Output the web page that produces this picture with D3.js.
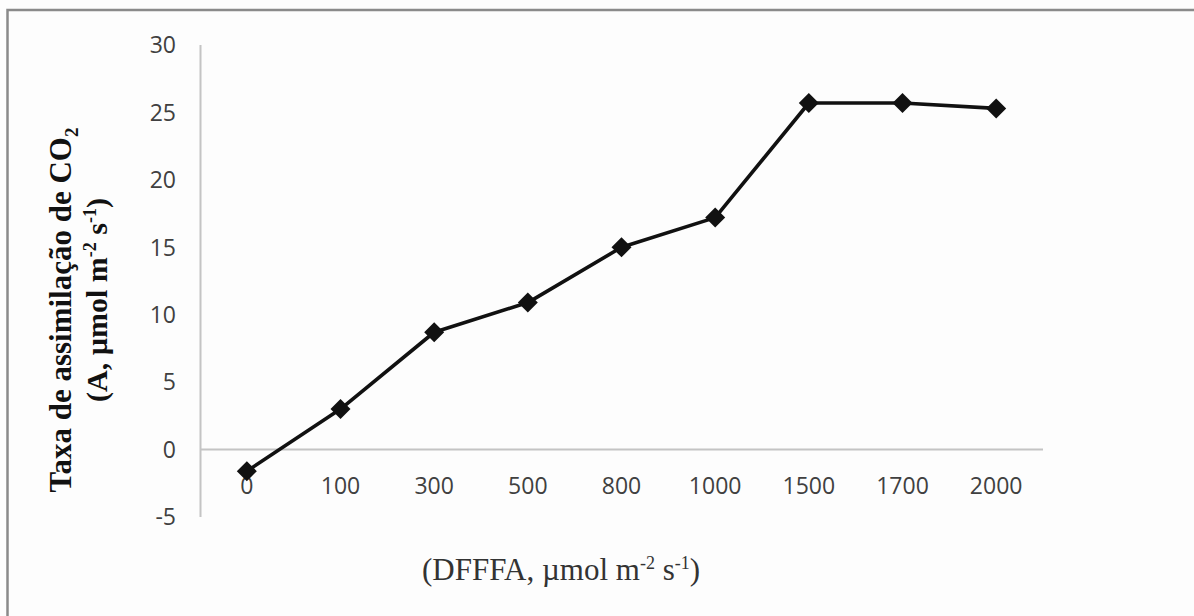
<!DOCTYPE html>
<html>
<head>
<meta charset="utf-8">
<script src="https://cdn.jsdelivr.net/npm/d3@7"></script>
<style>
  html, body { margin: 0; padding: 0; background: #fff; }
  svg { display: block; }
</style>
</head>
<body>
<script>
const categories = ["0", "100", "300", "500", "800", "1000", "1500", "1700", "2000"];
const values = [-1.6, 3.0, 8.7, 10.9, 15.0, 17.2, 25.7, 25.7, 25.3];
const yTicks = [-5, 0, 5, 10, 15, 20, 25, 30];

const W = 1194, H = 616;
const svg = d3.select("body").append("svg").attr("width", W).attr("height", H);

svg.append("rect").attr("x", 0).attr("y", 0).attr("width", W).attr("height", H).attr("fill", "#fdfdfd");
// outer frame (top & left visible)
svg.append("rect").attr("x", 7.5).attr("y", 10).attr("width", W + 20).attr("height", H + 20)
  .attr("fill", "none").attr("stroke", "#8a8a8a").attr("stroke-width", 2.5);

const x = d3.scalePoint().domain(categories).range([200, 1043]).padding(0.5);
const y = d3.scaleLinear().domain([-5, 30]).range([517, 45]);

const axisColor = "#c4c4c4";
const tickFont = "'Open Sans', sans-serif";

// Y axis line
svg.append("line").attr("x1", 200.5).attr("x2", 200.5).attr("y1", y(30)).attr("y2", y(-5))
  .attr("stroke", axisColor).attr("stroke-width", 2);
// X axis line at zero
svg.append("line").attr("x1", 200).attr("x2", 1043).attr("y1", y(0)).attr("y2", y(0))
  .attr("stroke", axisColor).attr("stroke-width", 2);

// Y tick labels
svg.append("g").selectAll("text").data(yTicks).join("text")
  .attr("x", 176).attr("y", d => y(d)).attr("dy", "0.36em")
  .attr("text-anchor", "end")
  .attr("font-family", tickFont).attr("font-size", 23).attr("fill", "#404040")
  .text(d => d);

// X tick labels
svg.append("g").selectAll("text").data(categories).join("text")
  .attr("x", d => x(d)).attr("y", 494)
  .attr("text-anchor", "middle")
  .attr("font-family", tickFont).attr("font-size", 23).attr("fill", "#404040")
  .text(d => d);

// Line
const pts = categories.map((c, i) => [x(c), y(values[i])]);
svg.append("path").attr("d", d3.line()(pts))
  .attr("fill", "none").attr("stroke", "#111").attr("stroke-width", 3.6)
  .attr("stroke-linejoin", "round");

// Markers (diamonds)
const sym = d3.symbol().type(d3.symbolSquare).size(200);
svg.append("g").selectAll("path").data(pts).join("path")
  .attr("d", sym)
  .attr("transform", d => `translate(${d[0]},${d[1]}) rotate(45)`)
  .attr("fill", "#111");

const serif = "'Liberation Serif', 'Times New Roman', serif";
// Y title
const yt = svg.append("text").attr("transform", "translate(71,310) rotate(-90)")
  .attr("text-anchor", "middle")
  .attr("font-family", serif)
  .attr("font-weight", "bold").attr("font-size", 31).attr("fill", "#111");
yt.append("tspan").text("Taxa de assimilação de CO");
yt.append("tspan").attr("font-size", 19).attr("dy", 7).text("2");

const yt2 = svg.append("text").attr("transform", "translate(107,300) rotate(-90)")
  .attr("text-anchor", "middle")
  .attr("font-family", serif)
  .attr("font-weight", "bold").attr("font-size", 30).attr("fill", "#111");
yt2.append("tspan").text("(A, µmol m");
yt2.append("tspan").attr("font-size", 18).attr("dy", -11).text("-2");
yt2.append("tspan").attr("dy", 11).text(" s");
yt2.append("tspan").attr("font-size", 18).attr("dy", -11).text("-1");
yt2.append("tspan").attr("dy", 11).text(")");

// X title
const xt = svg.append("text").attr("x", 561).attr("y", 580)
  .attr("text-anchor", "middle")
  .attr("font-family", serif)
  .attr("font-size", 31).attr("fill", "#333");
xt.append("tspan").text("(DFFFA, µmol m");
xt.append("tspan").attr("font-size", 18).attr("dy", -11).text("-2");
xt.append("tspan").attr("dy", 11).text(" s");
xt.append("tspan").attr("font-size", 18).attr("dy", -11).text("-1");
xt.append("tspan").attr("dy", 11).text(")");
</script>
</body>
</html>
